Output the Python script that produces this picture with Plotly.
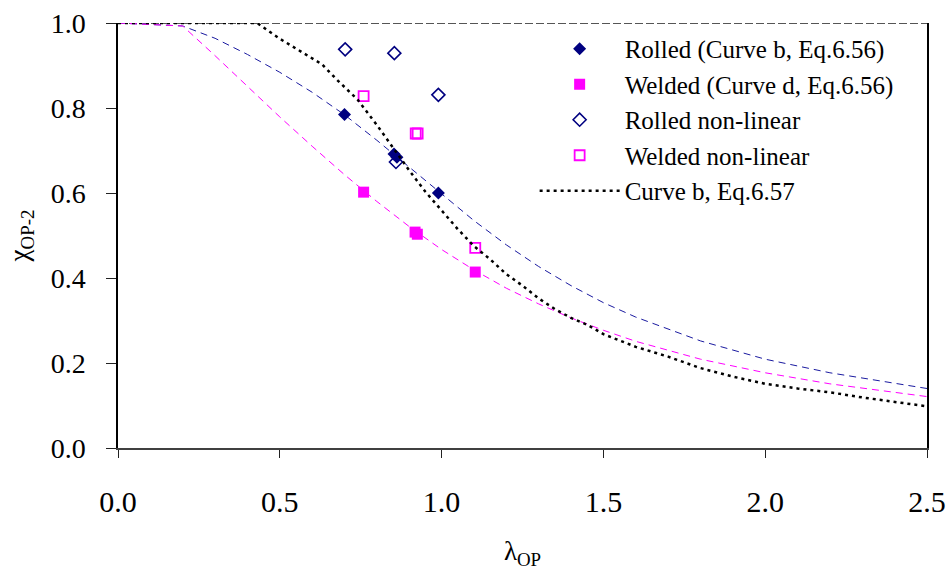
import plotly.graph_objects as go

# Slenderness values and reduction factors
lam_curve = [0.0, 0.2, 0.3, 0.4, 0.5, 0.6, 0.7, 0.8, 0.9, 1.0, 1.1, 1.2, 1.3, 1.4,
             1.5, 1.6, 1.8, 2.0, 2.2, 2.5]
chi_curve_b = [1.0, 0.993, 0.964, 0.926, 0.884, 0.837, 0.784, 0.724, 0.661, 0.597,
               0.535, 0.478, 0.427, 0.382, 0.342, 0.308, 0.252, 0.209, 0.177, 0.140]
chi_curve_d = [1.0, 0.993, 0.923, 0.850, 0.779, 0.710, 0.643, 0.580, 0.521, 0.467,
               0.419, 0.376, 0.339, 0.306, 0.277, 0.251, 0.209, 0.177, 0.151, 0.121]

lam_657 = [0.0, 0.43, 0.50, 0.60, 0.63, 0.68, 0.74, 0.80, 0.85, 0.90, 0.95, 1.00,
           1.05, 1.10, 1.15, 1.20, 1.25, 1.30, 1.35, 1.40, 1.45, 1.50, 1.60, 1.70,
           1.80, 1.90, 2.00, 2.10, 2.20, 2.30, 2.40, 2.50]
chi_657 = [1.0, 1.0, 0.963, 0.918, 0.903, 0.864, 0.820, 0.760, 0.706, 0.653, 0.603,
           0.558, 0.515, 0.475, 0.444, 0.409, 0.382, 0.352, 0.327, 0.306, 0.290,
           0.268, 0.238, 0.215, 0.188, 0.168, 0.151, 0.140, 0.131, 0.119, 0.108,
           0.098]

lam_rolled = [0.70, 0.853, 0.862, 0.99]
chi_rolled = [0.785, 0.692, 0.684, 0.600]
lam_welded = [0.759, 0.918, 0.925, 1.104]
chi_welded = [0.602, 0.508, 0.503, 0.414]

lam_rolled_nl = [0.702, 0.854, 0.859, 0.99]
chi_rolled_nl = [0.938, 0.929, 0.673, 0.831]
lam_welded_nl = [0.759, 0.920, 0.926, 1.104]
chi_welded_nl = [0.828, 0.740, 0.740, 0.471]

unity_x = [0.0, 2.5]
unity_y = [1.0, 1.0]

x_ticks = [0.0, 0.5, 1.0, 1.5, 2.0, 2.5]
y_ticks = [0.0, 0.2, 0.4, 0.6, 0.8, 1.0]

NAVY = "#000080"
MAGENTA = "#FF00FF"
FONT = "Liberation Serif"

fig = go.Figure()

# chi = 1 line along the top
fig.add_trace(go.Scatter(x=unity_x, y=unity_y, mode="lines", showlegend=False,
                         line=dict(color="#555555", width=2, dash="8px,3px"),
                         hoverinfo="skip", cliponaxis=False))

# Buckling curves b and d (Eq. 6.56)
fig.add_trace(go.Scatter(x=lam_curve, y=chi_curve_b, mode="lines", showlegend=False,
                         line=dict(color="#1a1aa0", width=1, dash="7px,5px")))
fig.add_trace(go.Scatter(x=lam_curve, y=chi_curve_d, mode="lines", showlegend=False,
                         line=dict(color=MAGENTA, width=1, dash="7px,5px")))

fig.add_trace(go.Scatter(x=lam_rolled, y=chi_rolled, mode="markers",
                         name="Rolled (Curve b, Eq.6.56)", legendgroup="a",
                         marker=dict(symbol="diamond", size=10, color=NAVY)))
fig.add_trace(go.Scatter(x=lam_welded, y=chi_welded, mode="markers",
                         name="Welded (Curve d, Eq.6.56)", legendgroup="b",
                         marker=dict(symbol="square", size=11, color=MAGENTA)))
fig.add_trace(go.Scatter(x=lam_rolled_nl, y=chi_rolled_nl, mode="markers",
                         name="Rolled non-linear", legendgroup="c",
                         marker=dict(symbol="diamond-open", size=10, color=NAVY,
                                     line=dict(width=1.6))))
fig.add_trace(go.Scatter(x=lam_welded_nl, y=chi_welded_nl, mode="markers",
                         name="Welded non-linear", legendgroup="d",
                         marker=dict(symbol="square-open", size=10, color=MAGENTA,
                                     line=dict(width=1.8))))
fig.add_trace(go.Scatter(x=lam_657, y=chi_657, mode="lines",
                         name="Curve b, Eq.6.57", legendgroup="e",
                         line=dict(color="black", width=2.5, dash="3px,4px")))

fig.update_layout(
    width=952, height=576,
    margin=dict(l=118, r=25, t=23, b=128, autoexpand=False),
    paper_bgcolor="white", plot_bgcolor="white",
    font=dict(family=FONT, color="black"),
    legend=dict(x=0.515, y=0.993, xanchor="left", yanchor="top",
                bgcolor="rgba(0,0,0,0)", font=dict(size=25, family=FONT),
                traceorder="grouped", tracegroupgap=0, itemwidth=80),
    xaxis=dict(range=[0, 2.5], tickvals=x_ticks, ticktext=[f"{v:.1f}" for v in x_ticks],
               showgrid=False, zeroline=False, showline=True, linecolor="#404040",
               linewidth=2, ticks="outside", ticklen=8, tickcolor="#222",
               automargin=False,
               tickfont=dict(size=30, family=FONT), ticklabelstandoff=18,
               title=dict(text="λ<sub>OP</sub>", font=dict(size=27, family=FONT),
                          standoff=24)),
    yaxis=dict(range=[0, 1], tickvals=y_ticks, ticktext=[f"{v:.1f}" for v in y_ticks],
               showgrid=False, zeroline=False, showline=True, linecolor="black",
               linewidth=1.5, mirror=True, ticks="outside", ticklen=10,
               automargin=False,
               tickcolor="#222", tickfont=dict(size=28, family=FONT),
               ticklabelstandoff=15,
               title=dict(text="χ<sub>OP-2</sub>", font=dict(size=27, family=FONT),
                          standoff=14)),
)

fig.write_html("out.html")
